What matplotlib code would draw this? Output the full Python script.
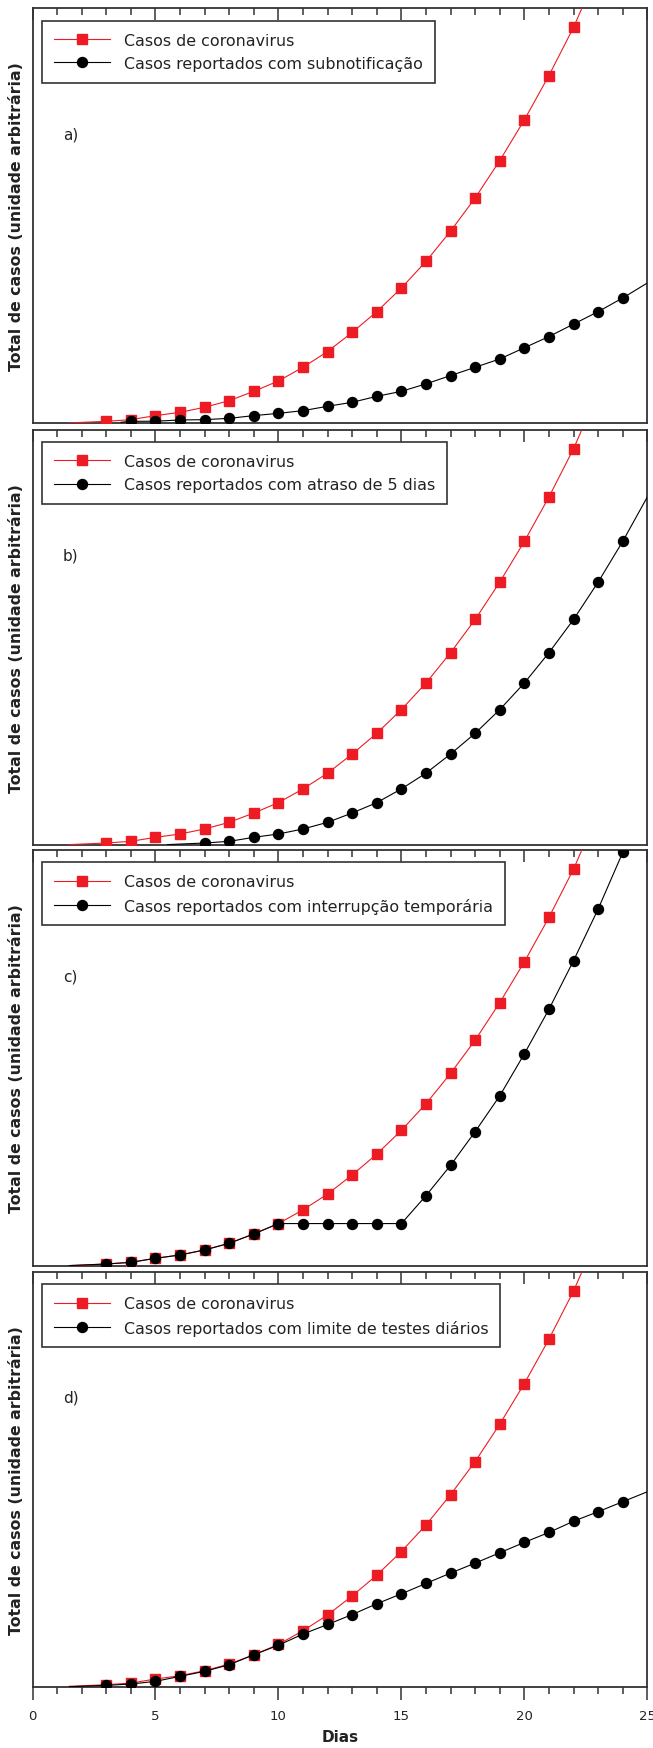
import numpy as np
import matplotlib
matplotlib.use("Agg")
import matplotlib.pyplot as plt
from matplotlib.ticker import MultipleLocator

# ---------------- data (arbitrary units, 0-100 = panel height) ----------------
red_days = [1.5, 3, 4, 5, 6, 7, 8, 9, 10, 11, 12, 13, 14, 15, 16, 17, 18, 19, 20, 21, 22, 23]
red_vals = [0.1, 0.48, 0.88, 1.85, 2.65, 3.86, 5.46, 7.71, 10.2, 13.5, 17.3, 21.9, 26.9,
            32.6, 39.0, 46.3, 54.3, 63.3, 73.1, 83.8, 95.4, 109.0]

a_days = [3.6, 4, 5, 6, 7, 8, 9, 10, 11, 12, 13, 14, 15, 16, 17, 18, 19, 20, 21, 22, 23, 24, 25]
a_vals = [0.25, 0.48, 0.5, 0.8, 0.88, 1.2, 1.85, 2.4, 3.05, 4.1, 5.06, 6.5, 7.7, 9.5,
          11.5, 13.5, 15.5, 18.2, 20.9, 23.9, 26.9, 30.2, 33.8]

b_days = [5.5, 7, 8, 9, 10, 11, 12, 13, 14, 15, 16, 17, 18, 19, 20, 21, 22, 23, 24, 25]
b_vals = [0.1, 0.48, 0.88, 1.85, 2.65, 3.86, 5.46, 7.71, 10.2, 13.5, 17.3, 21.9, 26.9,
          32.6, 39.0, 46.3, 54.3, 63.3, 73.1, 83.8]

c_days = [1.5, 3, 4, 5, 6, 7, 8, 9, 10, 11, 12, 13, 14, 15, 16, 17, 18, 19, 20, 21, 22, 23, 24, 25]
c_vals = [0.1, 0.48, 0.88, 1.85, 2.65, 3.86, 5.46, 7.71, 10.2, 10.2, 10.2, 10.2, 10.2, 10.2,
          16.9, 24.2, 32.3, 40.9, 51.0, 61.7, 73.4, 85.8, 99.4, 113.0]

d_days = [1.5, 3, 4, 5, 6, 7, 8, 9, 10, 11, 12, 13, 14, 15, 16, 17, 18, 19, 20, 21, 22, 23, 24, 25]
d_vals = [0.0, 0.32, 0.64, 1.29, 2.5, 3.7, 5.3, 7.7, 10.0, 12.7, 15.0, 17.4, 20.0, 22.4,
          24.9, 27.4, 29.8, 32.3, 34.8, 37.2, 39.9, 42.2, 44.6, 47.0]

red_label = "Casos de coronavirus"
black_labels = ["Casos reportados com subnotificação",
                "Casos reportados com atraso de 5 dias",
                "Casos reportados com interrupção temporária",
                "Casos reportados com limite de testes diários"]
panel_letters = ["a)", "b)", "c)", "d)"]
black_series = [(a_days, a_vals), (b_days, b_vals), (c_days, c_vals), (d_days, d_vals)]

xticks_major = [0, 5, 10, 15, 20, 25]
ylabel = "Total de casos (unidade arbitrária)"
xlabel = "Dias"

# ---------------- styling ----------------
plt.rcParams['font.family'] = ['DejaVu Sans']
RED = "#ed1c24"
SPINE = "#333333"
TXT = "#222222"

W, H = 653, 1749
fig = plt.figure(figsize=(W / 100, H / 100), dpi=100)

# panel boxes in pixels (top, bottom)
boxes = [(9.3, 424.3), (430.7, 846.0), (851.0, 1267.0), (1273.0, 1687.7)]
left_px, right_px = 32.5, 647.3


def marker_idx(days, hi=24):
    return [i for i, d in enumerate(days) if abs(d - round(d)) < 1e-9 and d <= hi]


for k, (top, bot) in enumerate(boxes):
    ax = fig.add_axes([left_px / W, 1 - bot / H, (right_px - left_px) / W, (bot - top) / H])
    ax.set_xlim(0, 25)
    ax.set_ylim(0, 100)

    ax.plot(red_days, red_vals, color=RED, lw=0.8, marker='s', ms=6.8,
            mec=RED, mfc=RED, markevery=marker_idx(red_days, 22), zorder=3,
            label=red_label)
    bd, bv = black_series[k]
    ax.plot(bd, bv, color='black', lw=0.8, marker='o', ms=7.2,
            mec='black', mfc='black', markevery=marker_idx(bd, 24), zorder=4,
            label=black_labels[k])

    for s in ax.spines.values():
        s.set_color(SPINE)
        s.set_linewidth(1.3)

    ax.set_yticks([])
    ax.set_xticks(xticks_major)
    ax.xaxis.set_minor_locator(MultipleLocator(1))
    ax.tick_params(axis='x', which='both', top=False, direction='out', color=SPINE, width=1.1)
    ax.tick_params(axis='x', which='major', length=9.0)
    ax.tick_params(axis='x', which='minor', length=5.2)

    # inward ticks along the top edge
    sec = ax.secondary_xaxis('top')
    sec.set_xticks(xticks_major)
    sec.xaxis.set_minor_locator(MultipleLocator(1))
    sec.tick_params(axis='x', which='both', direction='in', color=SPINE, width=1.1,
                    labeltop=False)
    sec.tick_params(axis='x', which='major', length=8.6)
    sec.tick_params(axis='x', which='minor', length=5.0)
    for s in sec.spines.values():
        s.set_visible(False)

    if k < 3:
        ax.tick_params(axis='x', which='both', bottom=False, labelbottom=False)
    else:
        ax.set_xticklabels([str(v) for v in xticks_major], fontsize=9.5, color=TXT)
        ax.tick_params(axis='x', which='major', pad=7)
        ax.set_xlabel(xlabel, fontsize=11, fontweight='bold', labelpad=5, color=TXT)

    ax.set_ylabel(ylabel, fontsize=11.3, fontweight='bold', va='center', color=TXT)
    ax.yaxis.set_label_coords((17 - left_px) / (right_px - left_px), 0.5)

    ax.text(0.0496, 0.698, panel_letters[k], transform=ax.transAxes, fontsize=11,
            ha='left', va='center', color=TXT)

    leg = ax.legend(loc='upper left', bbox_to_anchor=(0.016, 0.970), borderaxespad=0,
                    fontsize=11.4, frameon=True, fancybox=False, shadow=False,
                    handlelength=3.5, handletextpad=0.9, borderpad=0.75,
                    labelspacing=0.52)
    fr = leg.get_frame()
    fr.set_edgecolor(SPINE)
    fr.set_linewidth(1.2)
    fr.set_alpha(1)
    for txt in leg.get_texts():
        txt.set_color(TXT)

fig.savefig("out.png", dpi=100)
